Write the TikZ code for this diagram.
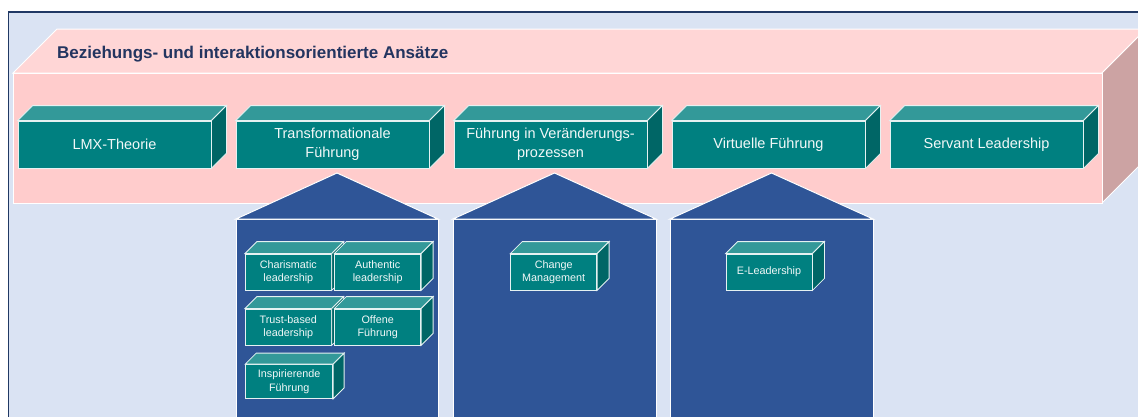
\documentclass[tikz,border=0pt]{standalone}
\usepackage{fontspec}
\setmainfont{Liberation Sans}
\definecolor{bgc}{HTML}{DAE3F3}
\definecolor{framec}{HTML}{203864}
\definecolor{pinkfront}{HTML}{FFCCCC}
\definecolor{pinktop}{HTML}{FFD6D6}
\definecolor{pinkside}{HTML}{CCA3A3}
\definecolor{tealfront}{HTML}{008080}
\definecolor{tealtop}{HTML}{339999}
\definecolor{tealside}{HTML}{006666}
\definecolor{housec}{HTML}{2F5597}
\definecolor{titlec}{HTML}{233560}
\definecolor{txtc}{HTML}{F2F8F8}
\tikzset{
  front/.style={draw=white!90!teal, line width=0.8pt, fill=tealfront, text=txtc,
    inner sep=0pt, align=center, rectangle},
  topface/.style={draw=white!90!teal, line width=0.8pt, fill=tealtop},
  sideface/.style={draw=white!90!teal, line width=0.8pt, fill=tealside},
  bigfont/.style={font=\fontsize{14.5}{19}\selectfont},
  smallfont/.style={font=\fontsize{10.8}{13.4}\selectfont},
  house/.style={fill=housec, draw=white, line width=1pt},
  pinkedge/.style={draw=white, line width=1pt}
}
\newcommand\cube[8]{%
  \node[front, minimum width=#4, minimum height=#5, #8] (#1) at (#2,#3) {#7};
  \filldraw[topface] (#1.north west) -- ++(#6,-#6) -- ([shift={(#6,-#6)}]#1.north east) -- (#1.north east) -- cycle;
  \filldraw[sideface] (#1.north east) -- ++(#6,-#6) -- ([shift={(#6,-#6)}]#1.south east) -- (#1.south east) -- cycle;
}
\begin{document}
\begin{tikzpicture}[x=1pt,y=-1pt]
\useasboundingbox (0,0) rectangle (1138,416);
\clip (0,0) rectangle (1138,416);
% frame
\filldraw[fill=bgc, draw=framec, line width=1.5pt] (8.5,12) rectangle (1160,440);
% pink block
\filldraw[pinkedge, fill=pinktop] (13,73) -- (57,29) -- (1146,29) -- (1102,73) -- cycle;
\filldraw[pinkedge, fill=pinkside] (1102,73) -- (1146,29) -- (1146,159) -- (1102,203) -- cycle;
\filldraw[pinkedge, fill=pinkfront] (13,73) rectangle (1102,203);
\node[anchor=west, inner sep=0pt, text=titlec, font=\fontsize{17}{20}\selectfont\bfseries] (title) at (57,54) {Beziehungs- und interaktionsorientierte Ansätze};
% houses
\filldraw[house] (236,219) rectangle (438,430);
\filldraw[house] (236,219) -- (337,173) -- (438,219) -- cycle;
\filldraw[house] (453,219) rectangle (656,430);
\filldraw[house] (453,219) -- (554.5,173) -- (656,219) -- cycle;
\filldraw[house] (670,219) rectangle (873,430);
\filldraw[house] (670,219) -- (771.5,173) -- (873,219) -- cycle;
% top row
\cube{lmx}{114.5}{144.5}{193}{47}{15}{LMX-Theorie}{bigfont}
\cube{trans}{332.5}{144.5}{193}{47}{15}{Transformationale\\Führung}{bigfont}
\cube{veraend}{550.5}{144.5}{193}{47}{15}{Führung in Veränderungs-\\prozessen}{bigfont}
\cube{virt}{768.5}{144.5}{193}{47}{15}{Virtuelle Führung}{bigfont}
\cube{serv}{986.5}{144.5}{193}{47}{15}{Servant Leadership}{bigfont}
% small boxes
\cube{char}{288.3}{272}{86}{36}{12}{Charismatic\\leadership}{smallfont}
\cube{auth}{377.7}{272}{86}{36}{12}{Authentic\\leadership}{smallfont}
\cube{trust}{288.3}{327}{86}{36}{12}{Trust-based\\leadership}{smallfont}
\cube{offen}{377.7}{327}{86}{36}{12}{Offene\\Führung}{smallfont}
\cube{insp}{289.2}{381.5}{87}{34}{11}{Inspirierende\\Führung}{smallfont}
\cube{change}{553.7}{272}{86}{36}{12}{Change\\Management}{smallfont}
\cube{elead}{769}{272}{86}{36}{12}{E-Leadership}{smallfont}
\end{tikzpicture}
\end{document}
